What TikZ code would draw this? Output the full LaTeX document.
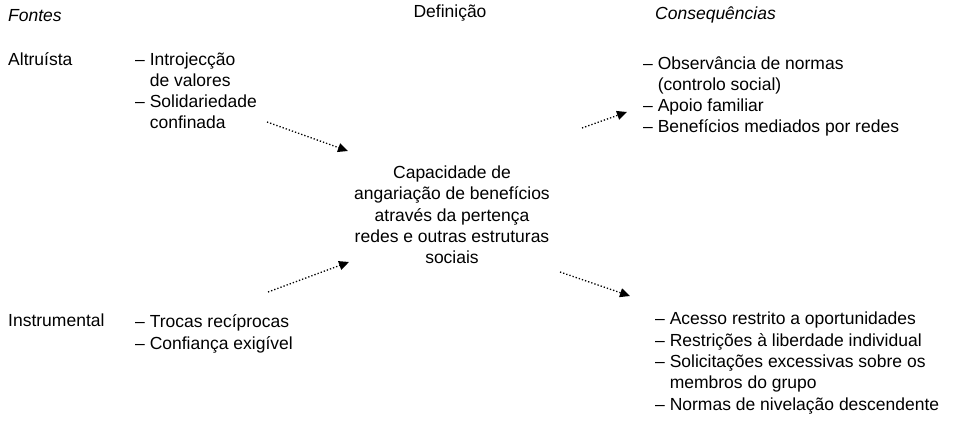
\documentclass[tikz,border=0pt]{standalone}
\usepackage{fontspec}
\setmainfont{Liberation Sans}
\usetikzlibrary{arrows.meta}

\begin{document}
\begin{tikzpicture}[x=1pt, y=-1pt, main/.style={inner sep=0pt, align=left, font=\fontsize{17.5}{21.3}\selectfont}, head/.style={main, font=\fontsize{17.5}{21.3}\selectfont\itshape}, link/.style={dotted, line width=1.3pt, -{Triangle[length=10pt, width=9pt]}}]

    \useasboundingbox (0,0) rectangle (978,425);

    \node[head, anchor=base west] (fontes) at (8,22) {Fontes};
    \node[main, anchor=base] (defh) at (450,18) {Definição};
    \node[head, anchor=base west] (consh) at (655,20) {Consequências};

    % multi-line nodes: base = last line
    \node[main, anchor=base west] (alt) at (8,66) {Altruísta};
    \node[main, anchor=base west] (altl) at (135,129) {– Introjecção\\\phantom{– }de valores\\– Solidariedade\\\phantom{– }confinada};
    \node[main, anchor=base west] (inst) at (8,326) {Instrumental};
    \node[main, anchor=base west] (instl) at (135,349) {– Trocas recíprocas\\– Confiança exigível};

    \node[main, align=center] (def) at (452,215) {Capacidade de\\angariação de benefícios\\através da pertença\\redes e outras estruturas\\sociais};

    \node[main, anchor=base west] (pos) at (643,133) {– Observância de normas\\\phantom{– }(controlo social)\\– Apoio familiar\\– Benefícios mediados por redes};
    \node[main, anchor=base west] (neg) at (655,410) {– Acesso restrito a oportunidades\\– Restrições à liberdade individual\\– Solicitações excessivas sobre os\\\phantom{– }membros do grupo\\– Normas de nivelação descendente};

    \coordinate (a1) at (267,122);
    \coordinate (b1) at (348,151);
    \coordinate (a2) at (582,128);
    \coordinate (b2) at (627,112);
    \coordinate (a3) at (268,292);
    \coordinate (b3) at (349,262);
    \coordinate (a4) at (560,272);
    \coordinate (b4) at (630,296);

    \path
        (a1) edge[link] (b1)
        (a2) edge[link] (b2)
        (a3) edge[link] (b3)
        (a4) edge[link] (b4)
        ;
\end{tikzpicture}
\end{document}
